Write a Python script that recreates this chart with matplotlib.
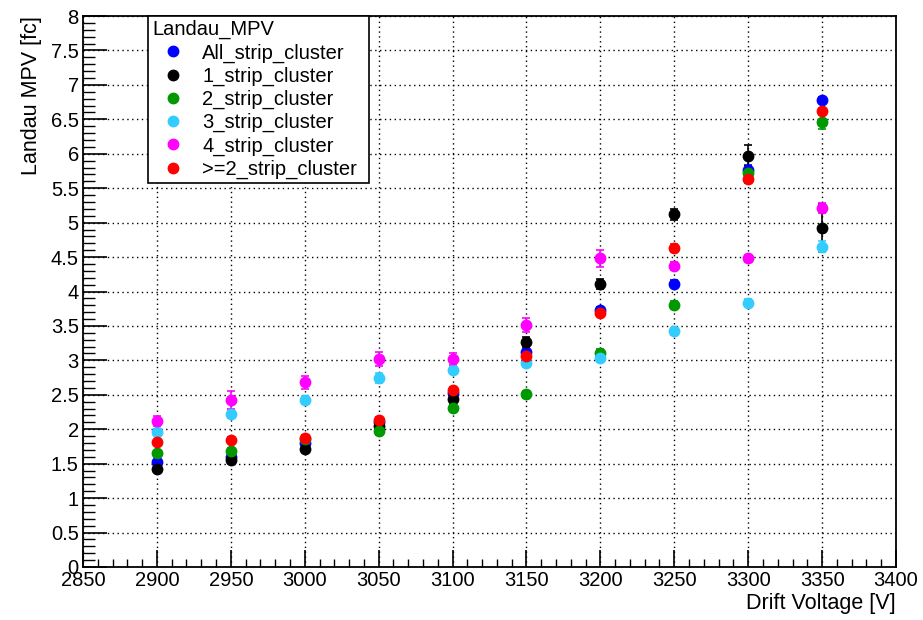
import matplotlib
matplotlib.use("Agg")
import matplotlib.pyplot as plt
from matplotlib.ticker import MultipleLocator

plt.rcParams["font.family"] = ["Liberation Sans", "DejaVu Sans"]

voltage = [2900, 2950, 3000, 3050, 3100, 3150, 3200, 3250, 3300, 3350]

all_strip = [1.53, 1.60, 1.80, 2.10, 2.52, 3.12, 3.73, 4.11, 5.77, 6.78]
one_strip = [1.43, 1.56, 1.72, 2.04, 2.44, 3.27, 4.11, 5.12, 5.97, 4.92]
two_strip = [1.65, 1.69, 1.86, 1.97, 2.31, 2.51, 3.10, 3.80, 5.72, 6.46]
three_strip = [1.96, 2.22, 2.42, 2.74, 2.86, 2.96, 3.03, 3.42, 3.84, 4.65]
four_strip = [2.12, 2.43, 2.68, 3.02, 3.02, 3.51, 4.48, 4.37, 4.48, 5.21]
ge2_strip = [1.81, 1.85, 1.88, 2.14, 2.57, 3.07, 3.69, 4.63, 5.64, 6.62]

all_err = [0.03, 0.03, 0.03, 0.03, 0.04, 0.04, 0.05, 0.05, 0.06, 0.05]
one_err = [0.04, 0.04, 0.05, 0.05, 0.06, 0.07, 0.07, 0.08, 0.15, 0.35]
two_err = [0.04, 0.04, 0.04, 0.05, 0.05, 0.05, 0.06, 0.06, 0.07, 0.10]
three_err = [0.05, 0.06, 0.06, 0.07, 0.06, 0.06, 0.06, 0.05, 0.05, 0.08]
four_err = [0.07, 0.13, 0.10, 0.10, 0.08, 0.10, 0.12, 0.06, 0.05, 0.07]
ge2_err = [0.04, 0.04, 0.04, 0.04, 0.05, 0.05, 0.05, 0.06, 0.07, 0.05]

series = [
    ("All_strip_cluster", all_strip, all_err, "#0000ff"),
    ("1_strip_cluster", one_strip, one_err, "#000000"),
    ("2_strip_cluster", two_strip, two_err, "#009900"),
    ("3_strip_cluster", three_strip, three_err, "#33ccff"),
    ("4_strip_cluster", four_strip, four_err, "#ff00ff"),
    (">=2_strip_cluster", ge2_strip, ge2_err, "#ff0000"),
]

fig = plt.figure(figsize=(9.23, 6.2), dpi=100)
ax = fig.add_axes([83 / 923, 53 / 620, 813 / 923, 551 / 620])

handles, labels = [], []
for label, vals, errs, col in series:
    cont = ax.errorbar(voltage, vals, yerr=errs, fmt="o", color=col, ecolor=col,
                       markersize=7.5, elinewidth=1.2, capsize=3, capthick=1.2,
                       zorder=3)
    handles.append(cont[0])
    labels.append(label)

ax.set_xlim(2850, 3400)
ax.set_ylim(0, 8)
ax.xaxis.set_major_locator(MultipleLocator(50))
ax.xaxis.set_minor_locator(MultipleLocator(10))
ax.yaxis.set_major_locator(MultipleLocator(0.5))
ax.yaxis.set_minor_locator(MultipleLocator(0.1))
ax.yaxis.set_major_formatter(plt.FuncFormatter(lambda v, p: f"{v:g}"))

ax.grid(True, which="major", color="black", linestyle=(0, (1, 2.5)), linewidth=1.0)
ax.tick_params(axis="both", which="both", direction="in", top=False, right=False,
               labelsize=14.5, colors="black")
ax.tick_params(axis="y", which="major", length=17, width=1.2, pad=3)
ax.tick_params(axis="y", which="minor", length=8.5, width=1.0)
ax.tick_params(axis="x", which="major", length=12, width=1.2, pad=3)
ax.tick_params(axis="x", which="minor", length=6, width=1.0)
for sp in ax.spines.values():
    sp.set_linewidth(1.3)

ax.set_xlabel("Drift Voltage [V]", fontsize=15.5, loc="right", labelpad=2)
ax.set_ylabel("Landau MPV [fc]", fontsize=15.5, loc="top", labelpad=6)

leg = ax.legend(handles, labels, loc="upper left", mode="expand",
                bbox_to_anchor=(65 / 813, 1 - 168 / 551, 221 / 813, 168 / 551),
                title="Landau_MPV", alignment="left", fontsize=14.5,
                title_fontsize=14.5, frameon=True, fancybox=False,
                edgecolor="black", framealpha=1, borderaxespad=0, borderpad=0.2,
                labelspacing=0.2, handletextpad=0.4, handlelength=2.1)
leg.get_frame().set_linewidth(1.2)

fig.savefig("out.png", dpi=100)
